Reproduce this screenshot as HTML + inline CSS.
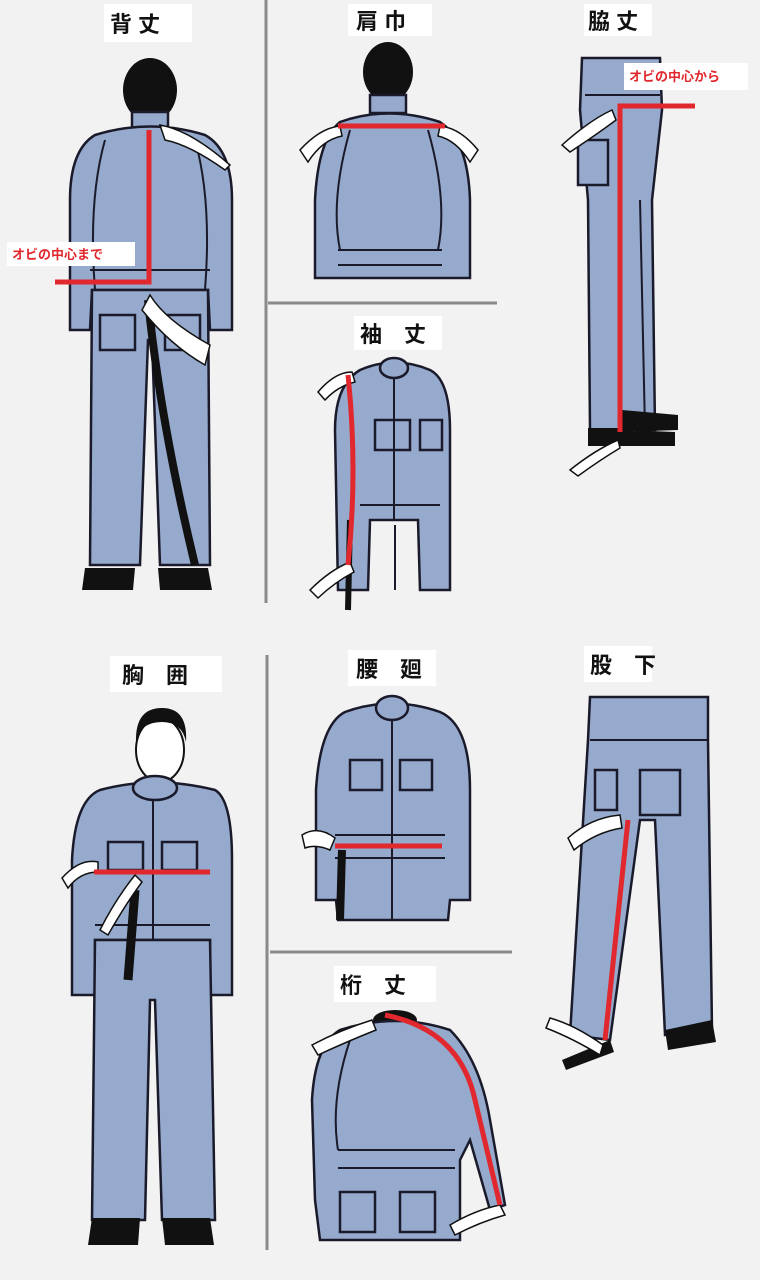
<!DOCTYPE html>
<html><head><meta charset="utf-8"><style>
body{margin:0;background:#f2f2f2;}
svg{display:block}
.t{font-family:"Liberation Sans","Noto Sans CJK JP",sans-serif;font-weight:bold;font-size:22px;fill:#111}
.r{font-family:"Liberation Sans","Noto Sans CJK JP",sans-serif;font-weight:bold;font-size:13px;fill:#e0282e}
.b{fill:#95aacc;stroke:#1a1a2a;stroke-width:2.5}
.k{fill:#111}
.l{fill:none;stroke:#1a1a2a;stroke-width:2}
.red{stroke:#e0282e;stroke-width:5;fill:none}
.h{fill:#fff;stroke:#111;stroke-width:1.5}
</style></head><body>
<svg width="760" height="1280" viewBox="0 0 760 1280">
<rect width="760" height="1280" fill="#f2f2f2"/>
<!-- dividers -->
<g stroke="#8a8a8a" stroke-width="3">
<line x1="266" y1="0" x2="266" y2="603"/><line x1="268" y1="303" x2="497" y2="303"/>
<line x1="267" y1="655" x2="267" y2="1250"/><line x1="270" y1="952" x2="512" y2="952"/>
</g>
<!-- titles -->
<g>
<rect x="104" y="4" width="88" height="38" fill="#fff"/><text class="t" x="110" y="32">背 丈</text>
<rect x="348" y="4" width="84" height="32" fill="#fff"/><text class="t" x="356" y="29">肩 巾</text>
<rect x="584" y="4" width="68" height="32" fill="#fff"/><text class="t" x="588" y="29">脇 丈</text>
<rect x="354" y="316" width="88" height="34" fill="#fff"/><text class="t" x="360" y="342">袖　丈</text>
<rect x="110" y="656" width="112" height="36" fill="#fff"/><text class="t" x="122" y="683">胸　囲</text>
<rect x="348" y="650" width="88" height="36" fill="#fff"/><text class="t" x="356" y="677">腰　廻</text>
<rect x="584" y="646" width="68" height="36" fill="#fff"/><text class="t" x="590" y="673">股　下</text>
<rect x="334" y="966" width="102" height="36" fill="#fff"/><text class="t" x="340" y="993">桁　丈</text>
</g>

<!-- Fig1 back -->
<ellipse class="k" cx="150" cy="90" rx="27" ry="32"/>
<rect class="b" x="132" y="112" width="36" height="18"/>
<path class="b" d="M95 135 Q150 118 205 135 Q232 150 232 200 L232 330 L210 330 L208 290 L92 290 L90 330 L70 330 L70 200 Q70 150 95 135Z"/>
<path class="l" d="M105 140 Q88 200 95 290 M195 140 Q212 200 205 290 M90 270 L210 270"/>
<path class="b" d="M92 290 L208 290 L210 565 L160 565 L152 340 L148 340 L140 565 L90 565Z"/>
<rect class="b" x="100" y="315" width="35" height="35"/><rect class="b" x="165" y="315" width="35" height="35"/>
<path d="M148 300 Q160 420 195 565" stroke="#111" stroke-width="8" fill="none"/>
<path class="k" d="M85 568 L135 568 L133 590 L82 590Z M158 568 L208 568 L212 590 L160 590Z"/>
<path class="h" d="M160 125 Q190 130 230 165 L225 170 Q190 145 165 140Z M150 295 Q165 320 210 345 L205 365 Q170 345 142 310Z"/>
<path class="red" d="M149 130 V282 H55"/>
<rect x="7" y="242" width="128" height="24" fill="#fff"/><text class="r" x="12" y="259">オビの中心まで</text>

<!-- Fig2 shoulder -->
<ellipse class="k" cx="388" cy="72" rx="25" ry="30"/>
<rect class="b" x="370" y="95" width="36" height="18"/>
<path class="b" d="M340 122 Q388 105 440 122 Q468 140 470 200 L470 278 L315 278 L315 200 Q318 140 340 122Z"/>
<path class="l" d="M350 130 Q330 200 340 250 M428 130 Q448 200 438 250 M338 250 L442 250 M338 265 L442 265"/>
<path class="h" d="M300 150 Q320 128 340 126 L342 136 Q322 140 308 162Z M478 150 Q460 128 440 126 L438 136 Q456 140 470 162Z"/>
<line class="red" x1="338" y1="126" x2="445" y2="126"/>

<!-- Fig3 side -->
<path class="b" d="M582 58 L660 58 L662 110 L652 200 L655 430 L622 430 L590 430 L588 200 L580 110Z"/>
<rect class="b" x="578" y="140" width="30" height="45"/>
<path class="l" d="M585 95 L660 95 M640 200 L645 430"/>
<path class="k" d="M588 428 L625 428 L625 446 L588 446Z M622 410 L678 415 L678 430 L622 432Z M625 430 L675 432 L675 446 L625 446Z"/>
<path class="h" d="M562 145 Q590 120 612 110 L616 120 Q596 135 570 152Z M570 470 Q595 450 618 440 L620 448 Q600 460 578 476Z"/>
<path class="red" d="M620 432 V106 H695"/>
<rect x="624" y="63" width="124" height="27" fill="#fff"/><text class="r" x="629" y="81">オビの中心から</text>

<!-- Fig4 sleeve -->
<path class="b" d="M360 370 Q395 355 430 370 Q450 380 450 430 L450 590 L420 590 L418 520 L370 520 L368 590 L338 590 L335 430 Q335 385 360 370Z"/>
<ellipse class="b" cx="394" cy="368" rx="14" ry="10"/>
<rect class="b" x="375" y="420" width="35" height="30"/><rect class="b" x="420" y="420" width="22" height="30"/>
<path class="l" d="M394 378 V520 M360 505 L440 505 M395 525 V590"/>
<path d="M350 520 L348 610" stroke="#111" stroke-width="6"/>
<path class="h" d="M318 392 Q335 372 352 372 L355 382 Q338 386 325 400Z M310 590 Q330 570 350 562 L354 572 Q335 582 318 598Z"/>
<path class="red" d="M348 375 Q358 470 348 565"/>

<!-- Fig5 chest -->
<ellipse fill="#fff" stroke="#111" stroke-width="2" cx="160" cy="750" rx="24" ry="32"/>
<path class="k" d="M136 742 Q135 708 162 708 Q188 708 186 742 Q182 722 162 722 Q140 722 136 742Z"/>
<path class="b" d="M100 790 Q155 775 215 790 Q232 800 232 860 L232 995 L210 995 L210 940 L95 940 L95 995 L72 995 L72 860 Q75 800 100 790Z"/>
<ellipse class="b" cx="155" cy="788" rx="22" ry="12"/>
<rect class="b" x="108" y="842" width="35" height="28"/><rect class="b" x="162" y="842" width="35" height="28"/>
<path class="l" d="M153 800 V940 M95 925 L210 925"/>
<path class="b" d="M95 940 L210 940 L215 1220 L162 1220 L155 1000 L150 1000 L145 1220 L92 1220Z"/>
<path d="M135 890 L128 980" stroke="#111" stroke-width="9"/>
<path class="k" d="M92 1218 L140 1218 L138 1245 L88 1245Z M162 1218 L210 1218 L214 1245 L165 1245Z"/>
<path class="h" d="M62 878 Q80 858 98 862 L98 872 Q80 872 68 888Z M100 930 Q115 900 135 875 L142 882 Q125 905 108 935Z"/>
<line class="red" x1="94" y1="872" x2="210" y2="872"/>

<!-- Fig6 waist -->
<path class="b" d="M345 712 Q392 695 440 712 Q470 725 470 790 L470 900 L450 900 L448 920 L338 920 L336 900 L316 900 L316 790 Q320 725 345 712Z"/>
<ellipse class="b" cx="392" cy="708" rx="16" ry="12"/>
<rect class="b" x="350" y="760" width="32" height="30"/><rect class="b" x="400" y="760" width="32" height="30"/>
<path class="l" d="M392 720 V920 M335 835 L445 835 M335 858 L445 858"/>
<path d="M342 850 L340 920" stroke="#111" stroke-width="8"/>
<path class="h" d="M302 835 Q318 825 335 838 L330 850 Q316 844 305 848Z"/>
<line class="red" x1="335" y1="846" x2="442" y2="846"/>

<!-- Fig7 inseam -->
<path class="b" d="M590 697 L708 697 L708 740 L712 1030 L665 1035 L655 820 L640 820 L610 1040 L570 1035 L588 740Z"/>
<rect class="b" x="595" y="770" width="22" height="40"/><rect class="b" x="640" y="770" width="40" height="45"/>
<path class="l" d="M590 740 L708 740"/>
<path class="k" d="M665 1030 L712 1020 L716 1042 L668 1050Z M562 1060 L610 1040 L614 1052 L566 1070Z"/>
<path class="h" d="M568 838 Q590 818 620 815 L622 828 Q596 832 574 850Z M550 1018 Q575 1025 603 1045 L600 1055 Q572 1038 546 1028Z"/>
<line class="red" x1="628" y1="820" x2="605" y2="1040"/>

<!-- Fig8 yuki -->
<ellipse class="k" cx="395" cy="1020" rx="22" ry="10"/>
<path class="b" d="M340 1030 Q395 1012 450 1030 Q480 1060 490 1120 L505 1205 L490 1210 L470 1140 L460 1160 L460 1240 L320 1240 L315 1200 L312 1100 Q315 1045 340 1030Z"/>
<path class="l" d="M350 1040 Q330 1100 338 1150 M338 1150 L455 1150 M338 1168 L455 1168"/>
<rect class="b" x="340" y="1192" width="35" height="40"/><rect class="b" x="400" y="1192" width="35" height="40"/>
<path class="h" d="M312 1045 Q340 1030 372 1020 L376 1030 Q346 1042 318 1055Z M450 1225 Q475 1210 500 1205 L505 1215 Q480 1222 455 1235Z"/>
<path class="red" d="M385 1015 Q460 1030 475 1100 L500 1205"/>
</svg>
</body></html>
